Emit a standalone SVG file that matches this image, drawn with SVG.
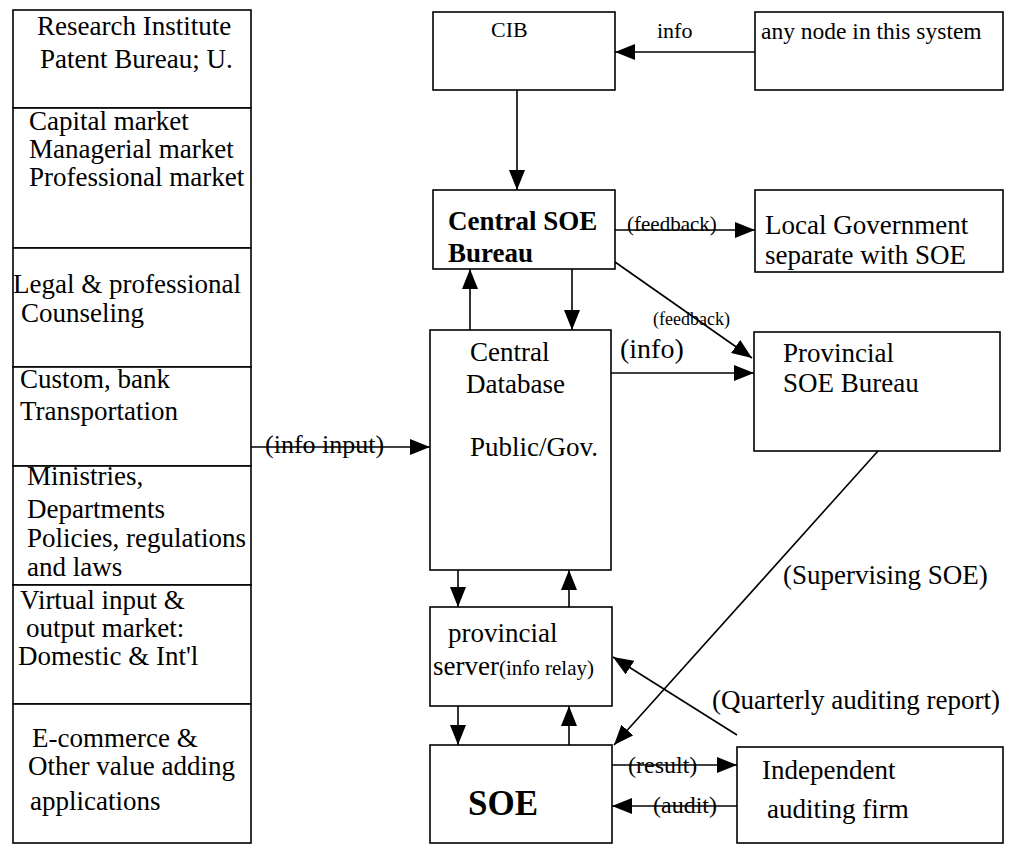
<svg xmlns="http://www.w3.org/2000/svg" width="1014" height="846" viewBox="0 0 1014 846">
<style>
.bx{fill:#fff;stroke:#000;stroke-width:1.6}
.t{font-family:"Liberation Serif","Times New Roman",serif;font-size:27px;fill:#000}
.b{font-weight:bold}
.c{stroke:#000;stroke-width:1.6;fill:none}
</style>
<defs>
<marker id="ah" markerUnits="userSpaceOnUse" markerWidth="20" markerHeight="16" refX="20" refY="8" orient="auto">
<path d="M0,0 L20,8 L0,16 z" fill="#000"/>
</marker>
</defs>
<rect width="1014" height="846" fill="#fff"/>
<g id="n-research"><rect class="bx" x="13" y="10" width="238" height="98"/>
<text class="t" x="37" y="35">Research Institute</text><text class="t" x="40" y="68">Patent Bureau; U.</text></g>
<g id="n-markets"><rect class="bx" x="13" y="108" width="238" height="140"/>
<text class="t" x="29" y="130">Capital market</text><text class="t" x="29" y="158">Managerial market</text><text class="t" x="29" y="186">Professional market</text></g>
<g id="n-legal"><rect class="bx" x="13" y="248" width="238" height="119"/>
<text class="t" x="13" y="293">Legal &amp; professional</text><text class="t" x="21" y="322">Counseling</text></g>
<g id="n-custom"><rect class="bx" x="13" y="367" width="238" height="99"/>
<text class="t" x="20" y="388">Custom, bank</text><text class="t" x="20" y="420">Transportation</text></g>
<g id="n-ministries"><rect class="bx" x="13" y="466" width="238" height="119"/>
<text class="t" x="27" y="485">Ministries,</text><text class="t" x="27" y="518">Departments</text><text class="t" x="27" y="547">Policies, regulations</text><text class="t" x="27" y="576">and laws</text></g>
<g id="n-virtual"><rect class="bx" x="13" y="585" width="238" height="119"/>
<text class="t" x="20" y="609">Virtual input &amp;</text><text class="t" x="26" y="637">output market:</text><text class="t" x="18" y="665">Domestic &amp; Int'l</text></g>
<g id="n-ecommerce"><rect class="bx" x="13" y="704" width="238" height="139"/>
<text class="t" x="32" y="747">E-commerce &amp;</text><text class="t" x="28" y="775">Other value adding</text><text class="t" x="30" y="810">applications</text></g>

<g id="n-cib"><rect class="bx" x="433" y="12" width="182" height="78"/>
<text class="t" x="491" y="37" style="font-size:22px">CIB</text></g>
<g id="n-anynode"><rect class="bx" x="755" y="12" width="248" height="78"/>
<text class="t" x="761" y="39" style="font-size:23.5px">any node in this system</text></g>
<g id="n-central-soe"><rect class="bx" x="433" y="190" width="182" height="79"/>
<text class="t b" x="448" y="230">Central SOE</text><text class="t b" x="448" y="262">Bureau</text></g>
<g id="n-localgov"><rect class="bx" x="755" y="190" width="248" height="82"/>
<text class="t" x="765" y="234">Local Government</text><text class="t" x="765" y="264">separate with SOE</text></g>
<g id="n-database"><rect class="bx" x="430" y="330" width="181" height="240"/>
<text class="t" x="470" y="361">Central</text><text class="t" x="466" y="393">Database</text><text class="t" x="470" y="456">Public/Gov.</text></g>
<g id="n-provincial-bureau"><rect class="bx" x="754" y="332" width="246" height="119"/>
<text class="t" x="783" y="362">Provincial</text><text class="t" x="783" y="392">SOE Bureau</text></g>
<g id="n-server"><rect class="bx" x="430" y="607" width="182" height="99"/>
<text class="t" x="448" y="642">provincial</text><text class="t" x="433" y="675">server<tspan style="font-size:21px">(info relay)</tspan></text></g>
<g id="n-soe"><rect class="bx" x="430" y="745" width="182" height="98"/>
<text class="t b" x="468" y="815" style="font-size:35px">SOE</text></g>
<g id="n-auditor"><rect class="bx" x="737" y="747" width="266" height="96"/>
<text class="t" x="762" y="779">Independent</text><text class="t" x="767" y="818">auditing firm</text></g>

<g id="connectors">
<line class="c" x1="755" y1="52" x2="615" y2="52" marker-end="url(#ah)"/>
<text class="t" x="657" y="38" style="font-size:22px">info</text>
<line class="c" x1="517" y1="90" x2="517" y2="190" marker-end="url(#ah)"/>
<line class="c" x1="615" y1="230" x2="755" y2="230" marker-end="url(#ah)"/>
<text class="t" x="627" y="231" style="font-size:21px">(feedback)</text>
<line class="c" x1="615" y1="262" x2="752" y2="358" marker-end="url(#ah)"/>
<text class="t" x="653" y="325" style="font-size:18px">(feedback)</text>
<line class="c" x1="470" y1="330" x2="470" y2="269" marker-end="url(#ah)"/>
<line class="c" x1="572" y1="269" x2="572" y2="330" marker-end="url(#ah)"/>
<line class="c" x1="611" y1="373" x2="754" y2="373" marker-end="url(#ah)"/>
<text class="t" x="620" y="358" style="font-size:28px">(info)</text>
<line class="c" x1="251" y1="447" x2="430" y2="447" marker-end="url(#ah)"/>
<text class="t" x="265" y="453" style="font-size:26px">(info input)</text>
<line class="c" x1="458" y1="570" x2="458" y2="607" marker-end="url(#ah)"/>
<line class="c" x1="569" y1="607" x2="569" y2="570" marker-end="url(#ah)"/>
<line class="c" x1="458" y1="706" x2="458" y2="745" marker-end="url(#ah)"/>
<line class="c" x1="569" y1="745" x2="569" y2="706" marker-end="url(#ah)"/>
<line class="c" x1="878" y1="451" x2="614" y2="745" marker-end="url(#ah)"/>
<text class="t" x="783" y="584">(Supervising SOE)</text>
<line class="c" x1="737" y1="735" x2="613" y2="657" marker-end="url(#ah)"/>
<text class="t" x="712" y="709">(Quarterly auditing report)</text>
<line class="c" x1="612" y1="765" x2="737" y2="765" marker-end="url(#ah)"/>
<text class="t" x="628" y="773" style="font-size:24px">(result)</text>
<line class="c" x1="737" y1="806" x2="612" y2="806" marker-end="url(#ah)"/>
<text class="t" x="653" y="813" style="font-size:24px">(audit)</text>
</g>
</svg>
